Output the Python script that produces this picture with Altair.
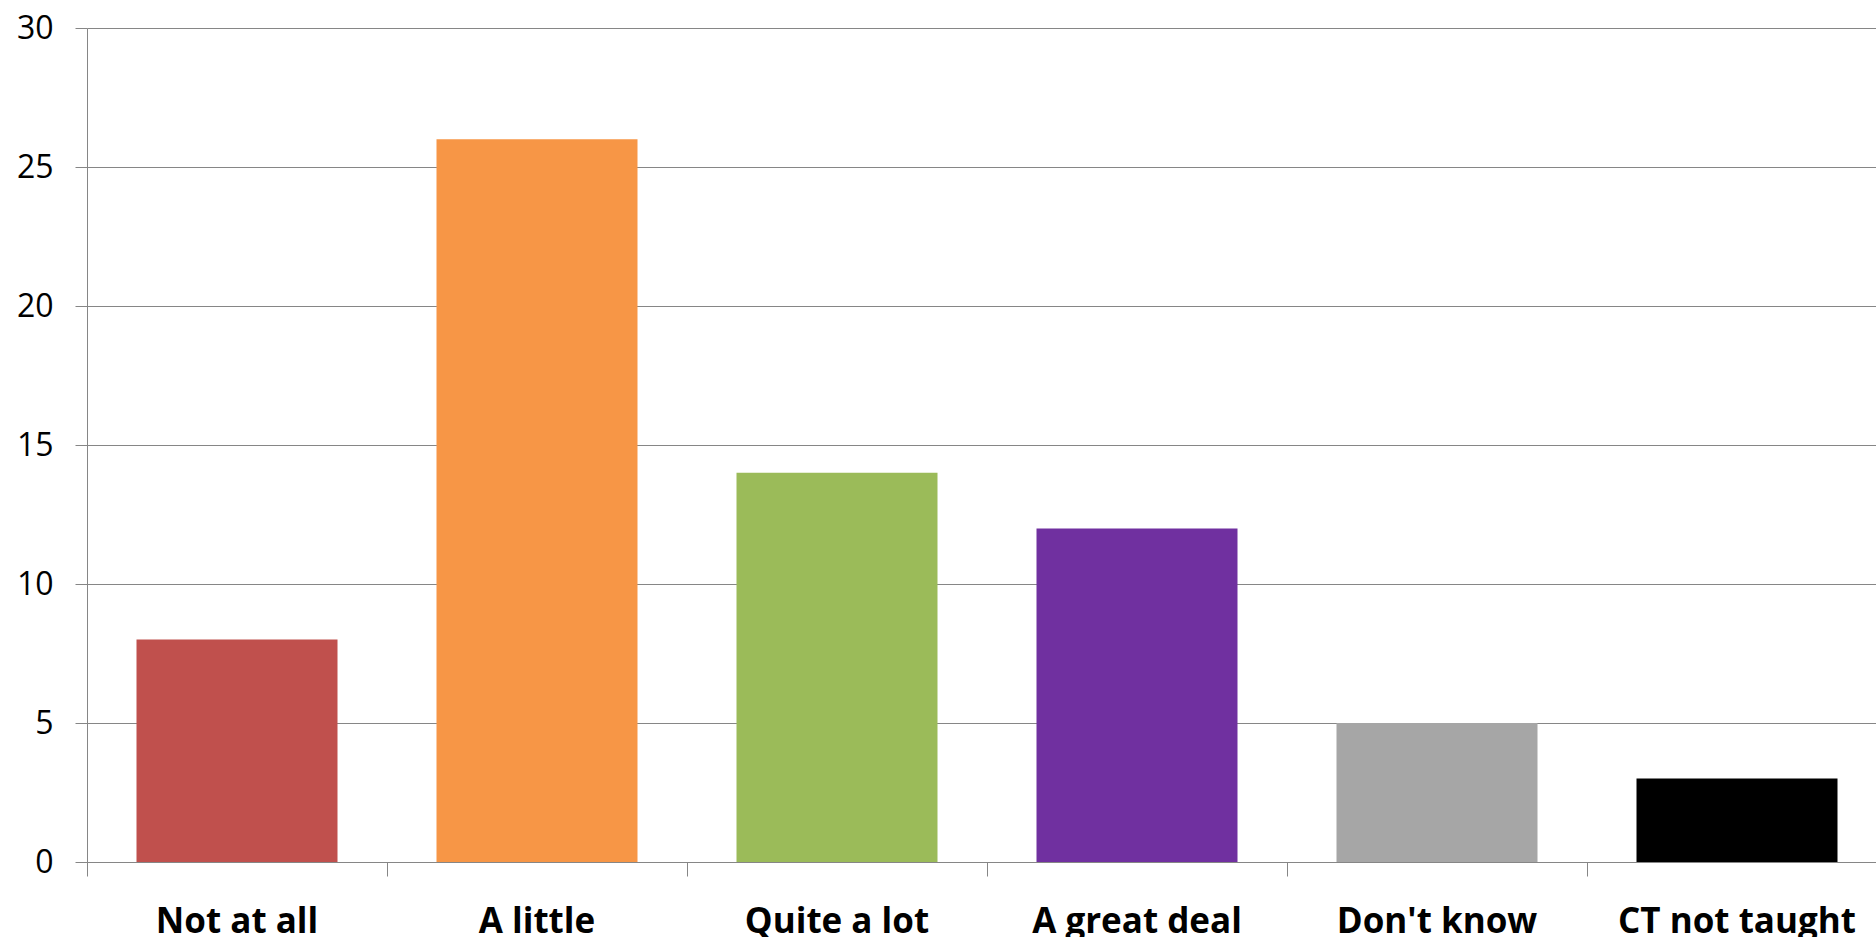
import altair as alt
import pandas as pd

categories = ["Not at all", "A little", "Quite a lot", "A great deal", "Don't know", "CT not taught"]
counts = [8, 26, 14, 12, 5, 3]
colors = ["#C0504D", "#F79646", "#9BBB59", "#7030A0", "#A6A6A6", "#000000"]

df = pd.DataFrame({"category": categories, "count": counts})

GRAY = "#868686"

chart = (
    alt.Chart(df)
    .mark_bar(width=alt.RelativeBandSize(0.67))
    .encode(
        x=alt.X(
            "category:N",
            sort=categories,
            title=None,
            scale=alt.Scale(range=[0, 1800], paddingInner=0, paddingOuter=0),
            axis=alt.Axis(
                bandPosition=0,
                labelAngle=0,
                labelFont="Open Sans",
                labelFontWeight="bold",
                labelFontSize=35,
                labelColor="#000000",
                labelPadding=28,
                labelLimit=0,
                tickSize=14,
                tickColor=GRAY,
                domainColor=GRAY,
                grid=False,
                labelBound=False,
                labelOverlap=False,
            ),
        ),
        y=alt.Y(
            "count:Q",
            title=None,
            scale=alt.Scale(domain=[0, 30]),
            axis=alt.Axis(
                values=[0, 5, 10, 15, 20, 25, 30],
                labelFont="Open Sans",
                labelFontSize=32,
                labelColor="#000000",
                labelPadding=22,
                tickSize=12,
                tickColor=GRAY,
                domainColor=GRAY,
                gridColor=GRAY,
                gridOpacity=1,
            ),
        ),
        color=alt.Color(
            "category:N",
            sort=categories,
            scale=alt.Scale(domain=categories, range=colors),
            legend=None,
        ),
    )
    .properties(
        width=1789,
        height=834,
        padding={"left": 87, "top": 28, "right": 0, "bottom": 75},
        autosize=alt.AutoSizeParams(type="none"),
    )
    .configure_view(stroke=None)
    .configure_axis(labelFlush=False)
)

chart.save("out.html", embed_options={"renderer": "svg", "actions": False})
